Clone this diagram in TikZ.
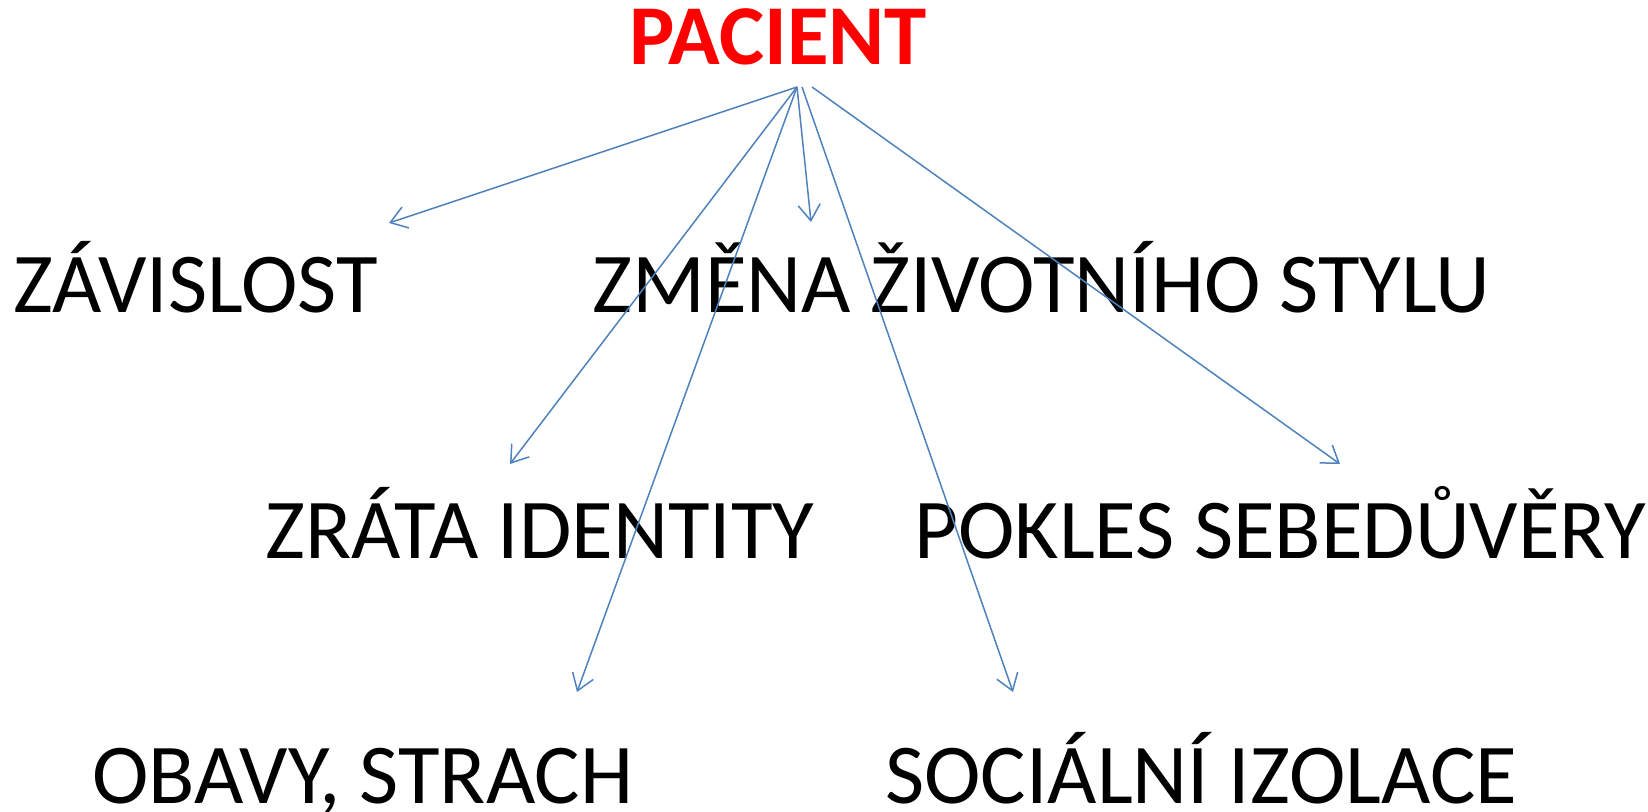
\documentclass[tikz,border=0pt]{standalone}
\usepackage{fontspec}
\setmainfont{Carlito}
\usetikzlibrary{arrows.meta}
\definecolor{arrowblue}{HTML}{4F81BD}
\definecolor{pacred}{HTML}{FF0000}
\tikzset{
  label/.style={inner sep=0pt, anchor=base west, font=\fontsize{42.6}{50}\selectfont},
  link/.style={draw=arrowblue, line width=0.75pt, -{Straight Barb[length=8pt,width=11pt]}}
}
\begin{document}
\begin{tikzpicture}[x=0.5pt, y=-0.5pt]
        \useasboundingbox (0,0) rectangle (1648,812);
        % centre word
        \node[label, anchor=base, font=\fontsize{42.6}{50}\selectfont\bfseries, text=pacred] (pacient) at (778,65) {PACIENT};
        % first row
        \node[label] (zavislost) at (13,313) {ZÁVISLOST};
        \node[label] (zmena) at (592,313) {ZMĚNA ŽIVOTNÍHO STYLU};
        % second row
        \node[label] (ztrata) at (265,558) {ZRÁTA IDENTITY};
        \node[label] (pokles) at (914,558) {POKLES SEBEDŮVĚRY};
        % third row
        \node[label] (obavy) at (92,803) {OBAVY, STRACH};
        \node[label] (izolace) at (885,803) {SOCIÁLNÍ IZOLACE};
        % start and tip points of the arrows
        \coordinate (src) at (797,87);
        \coordinate (srcB) at (802,87);
        \coordinate (srcC) at (812,87);
        \coordinate (tZavislost) at (389,223);
        \coordinate (tZmena) at (811,222);
        \coordinate (tZtrata) at (510,464);
        \coordinate (tPokles) at (1340,464);
        \coordinate (tObavy) at (577,692);
        \coordinate (tIzolace) at (1013,692);
        % arrows
        \draw[link] (src) -- (tZavislost);
        \draw[link] (src) -- (tZmena);
        \draw[link] (src) -- (tZtrata);
        \draw[link] (src) -- (tObavy);
        \draw[link] (srcB) -- (tIzolace);
        \draw[link] (srcC) -- (tPokles);
\end{tikzpicture}
\end{document}
